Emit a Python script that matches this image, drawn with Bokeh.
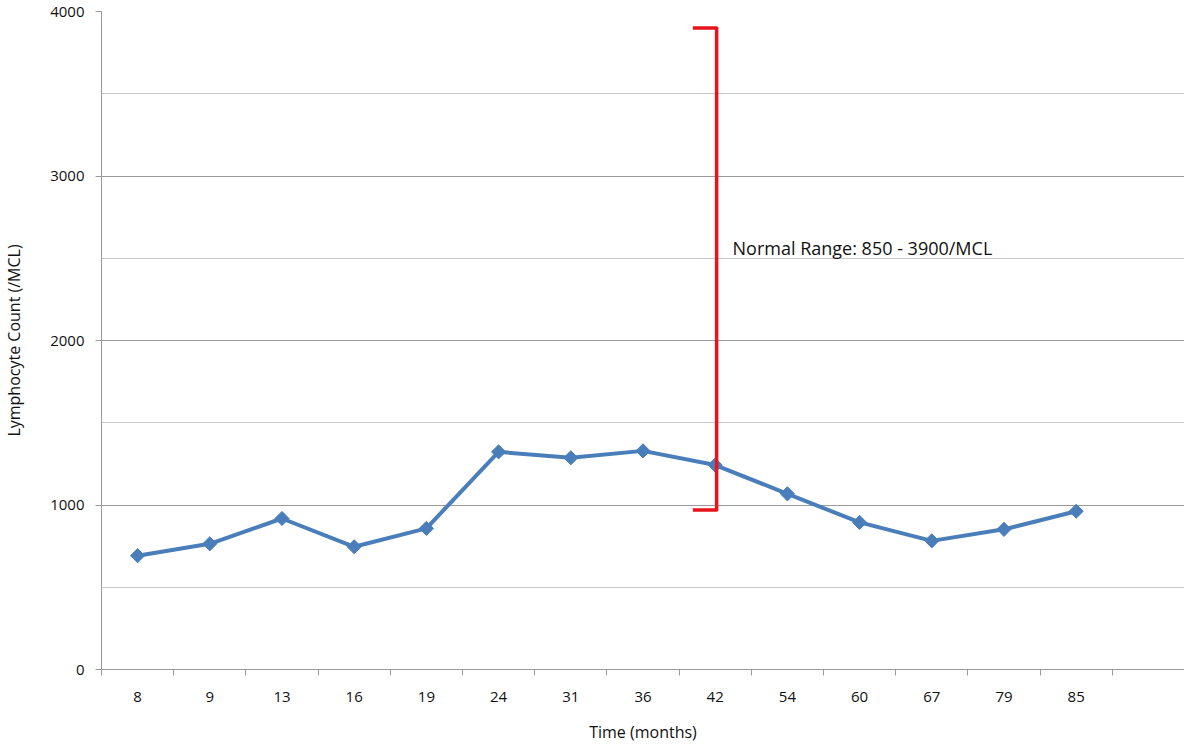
from bokeh.plotting import figure
from bokeh.models import FixedTicker, Range1d, Label
from bokeh.embed import file_html
from bokeh.resources import INLINE
import numpy as np

months = ["8", "9", "13", "16", "19", "24", "31", "36", "42", "54", "60", "67", "79", "85"]
counts = [692, 764, 918, 746, 858, 1323, 1287, 1329, 1243, 1068, 894, 782, 852, 962]
n_slots = 15
range_low_drawn = 970
range_high = 3900
bracket_month = "42"
range_text = "Normal Range: 850 - 3900/MCL"

FONT = "Open Sans"
GRID = "#9a9a9a"

p = figure(width=1184, height=745, output_backend="svg", toolbar_location=None,
           x_range=Range1d(0, n_slots), y_range=Range1d(0, 4000),
           min_border_left=92, min_border_right=0, min_border_top=11, min_border_bottom=10)
p.outline_line_color = None
p.background_fill_color = "white"
p.border_fill_color = "white"

xs = np.arange(len(months)) + 0.5
p.line(xs, counts, line_color="#4a7ebb", line_width=4)
p.scatter(xs, counts, marker="square", size=10, angle=np.pi / 4,
          fill_color="#4a7ebb", line_color="#4a7ebb")

# bracket
bx = months.index(bracket_month) + 0.52
tab = 0.33
p.line([bx - tab, bx, bx, bx - tab], [range_high, range_high, range_low_drawn, range_low_drawn],
       line_color="#e8141c", line_width=3.5, line_join="round")
p.add_layout(Label(x=bx + 0.22, y=2562, text=range_text, text_font=FONT, text_font_size="18px",
                   text_baseline="middle", text_color="#111111"))

# x axis
xa = p.xaxis[0]
xa.ticker = FixedTicker(ticks=list(xs), minor_ticks=list(range(n_slots + 1)))
xa.major_label_overrides = {float(x): m for x, m in zip(xs, months)}
xa.major_tick_out = 0
xa.major_tick_in = 0
xa.minor_tick_out = 6
xa.minor_tick_in = 0
xa.minor_tick_line_color = GRID
xa.axis_line_color = GRID
xa.major_label_standoff = 16
xa.major_label_text_font = FONT
xa.major_label_text_font_size = "15px"
xa.major_label_text_color = "#111111"
xa.axis_label = "Time (months)"
xa.axis_label_text_font = FONT
xa.axis_label_text_font_size = "16px"
xa.axis_label_text_font_style = "normal"
xa.axis_label_text_color = "#111111"
xa.axis_label_standoff = 16

# y axis
ya = p.yaxis[0]
ya.ticker = FixedTicker(ticks=[0, 1000, 2000, 3000, 4000], minor_ticks=[500, 1500, 2500, 3500])
ya.major_tick_out = 6
ya.major_tick_in = 0
ya.minor_tick_line_color = None
ya.major_tick_line_color = GRID
ya.axis_line_color = GRID
ya.major_label_standoff = 11
ya.major_label_text_font = FONT
ya.major_label_text_font_size = "15px"
ya.major_label_text_color = "#111111"
ya.axis_label = "Lymphocyte Count (/MCL)"
ya.axis_label_text_font = FONT
ya.axis_label_text_font_size = "16px"
ya.axis_label_text_font_style = "normal"
ya.axis_label_text_color = "#111111"
ya.axis_label_standoff = 22

p.xgrid.grid_line_color = None
p.ygrid.grid_line_color = GRID
p.ygrid.grid_line_width = 1.2
p.ygrid.minor_grid_line_color = "#c8c8c8"
p.ygrid.minor_grid_line_width = 1.2

open("out.html", "w").write(file_html(p, INLINE))
